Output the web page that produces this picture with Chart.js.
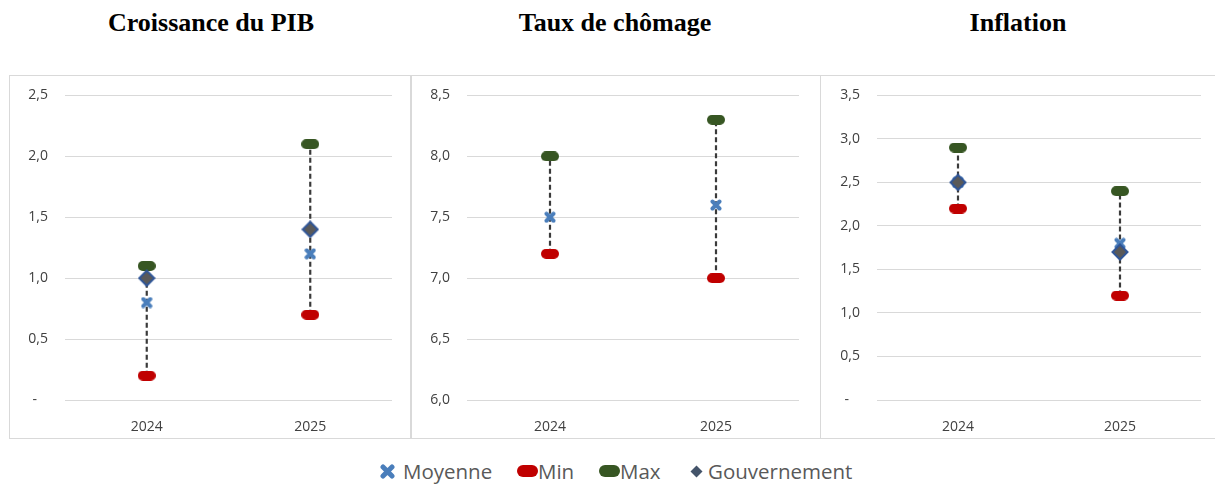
<!DOCTYPE html>
<html>
<head>
<meta charset="utf-8">
<script src="https://cdn.jsdelivr.net/npm/chart.js@4.4.0/dist/chart.umd.min.js"></script>
<style>
body { margin: 0; background: #fff; width: 1215px; height: 484px; overflow: hidden; position: relative; font-family: 'Open Sans', sans-serif; }
.title { position: absolute; top: 8px; font: bold 26px 'Liberation Serif', 'Times New Roman', serif; color: #000; transform: translateX(-50%); white-space: nowrap; }
.panel { position: absolute; border: 1px solid #d9d9d9; box-sizing: border-box; }
canvas { position: absolute; }
.legend-item { position: absolute; top: 458px; height: 26px; display: flex; align-items: center; font-size: 20.5px; color: #595959; white-space: nowrap; }
.legend-item canvas { position: static; }
</style>
</head>
<body>

<div class="title" style="left:211px">Croissance du PIB</div>
<div class="title" style="left:615px">Taux de chômage</div>
<div class="title" style="left:1018px">Inflation</div>

<div class="panel" style="left:9px;top:75px;width:402px;height:364px"></div>
<div class="panel" style="left:411px;top:75px;width:410px;height:364px"></div>
<div class="panel" style="left:820px;top:75px;width:400px;height:364px"></div>

<canvas id="pibChart" style="left:10px;top:70px" width="400" height="368"></canvas>
<canvas id="chomageChart" style="left:412px;top:70px" width="408" height="368"></canvas>
<canvas id="inflationChart" style="left:821px;top:70px" width="394" height="368"></canvas>

<div id="legend"></div>

<script>
// ==========================================
// Data
// ==========================================
const YEARS = ['2024', '2025'];

const PIB_MOYENNE = [0.8, 1.2];
const PIB_MIN = [0.2, 0.7];
const PIB_MAX = [1.1, 2.1];
const PIB_GOUV = [1.0, 1.4];

const CHOMAGE_MOYENNE = [7.5, 7.6];
const CHOMAGE_MIN = [7.2, 7.0];
const CHOMAGE_MAX = [8.0, 8.3];
const CHOMAGE_GOUV = [null, null];

const INFLATION_MOYENNE = [2.5, 1.8];
const INFLATION_MIN = [2.2, 1.2];
const INFLATION_MAX = [2.9, 2.4];
const INFLATION_GOUV = [2.5, 1.7];

const COLOR_MOYENNE = '#4a7ebb';
const COLOR_MIN = '#c00000';
const COLOR_MAX = '#375623';
const COLOR_GOUV_FILL = '#595959';
const COLOR_GOUV_BORDER = '#2f5597';

// ==========================================
// Marker images
// ==========================================
function pillImage(color, w, h) {
    const c = document.createElement('canvas');
    c.width = w; c.height = h;
    const ctx = c.getContext('2d');
    const r = h / 2;
    ctx.fillStyle = color;
    ctx.beginPath();
    ctx.moveTo(r, 0);
    ctx.lineTo(w - r, 0);
    ctx.arc(w - r, r, r, -Math.PI / 2, Math.PI / 2);
    ctx.lineTo(r, h);
    ctx.arc(r, r, r, Math.PI / 2, Math.PI * 1.5);
    ctx.closePath();
    ctx.fill();
    return c;
}

function crossImage(color, s, lw) {
    const c = document.createElement('canvas');
    c.width = s; c.height = s;
    const ctx = c.getContext('2d');
    const p = lw / 2 + 0.5;
    ctx.strokeStyle = color;
    ctx.lineWidth = lw;
    ctx.lineCap = 'round';
    ctx.beginPath();
    ctx.moveTo(p, p); ctx.lineTo(s - p, s - p);
    ctx.moveTo(s - p, p); ctx.lineTo(p, s - p);
    ctx.stroke();
    return c;
}

function diamondImage(fill, border, s, bw) {
    const c = document.createElement('canvas');
    c.width = s; c.height = s;
    const ctx = c.getContext('2d');
    const h = s / 2, p = bw / 2 + 0.5;
    ctx.beginPath();
    ctx.moveTo(h, p); ctx.lineTo(s - p, h); ctx.lineTo(h, s - p); ctx.lineTo(p, h);
    ctx.closePath();
    ctx.fillStyle = fill;
    ctx.fill();
    if (bw > 0) {
        ctx.strokeStyle = border;
        ctx.lineWidth = bw;
        ctx.stroke();
    }
    return c;
}

const MARK_MOYENNE = crossImage(COLOR_MOYENNE, 12, 4);
const MARK_MIN = pillImage(COLOR_MIN, 18, 10);
const MARK_MAX = pillImage(COLOR_MAX, 18, 10);
const MARK_GOUV = diamondImage(COLOR_GOUV_FILL, COLOR_GOUV_BORDER, 18, 2);

// ==========================================
// Chart builder
// ==========================================
function pointSet(label, values, image, order) {
    return {
        label: label,
        data: values,
        showLine: false,
        pointStyle: image,
        pointRadius: 8,
        order: order
    };
}

function rangeSet(year, lo, hi) {
    return {
        label: 'range',
        data: [{ x: year, y: lo }, { x: year, y: hi }],
        borderColor: '#3a3a3a',
        borderWidth: 2.2,
        borderDash: [5, 3],
        pointRadius: 0,
        order: 10
    };
}

function makeChart(id, moyenne, mins, maxs, gouv, yMin, yMax, axisWidth, padRight) {
    const datasets = [
        pointSet('Gouvernement', gouv, MARK_GOUV, 0),
        pointSet('Moyenne', moyenne, MARK_MOYENNE, 1),
        pointSet('Max', maxs, MARK_MAX, 2),
        pointSet('Min', mins, MARK_MIN, 3)
    ];
    YEARS.forEach((y, i) => datasets.push(rangeSet(y, mins[i], maxs[i])));

    return new Chart(document.getElementById(id), {
        type: 'line',
        data: { labels: YEARS, datasets: datasets },
        options: {
            responsive: false,
            animation: false,
            layout: { autoPadding: false, padding: { left: 0, right: padRight, top: 0, bottom: 0 } },
            plugins: { legend: { display: false }, tooltip: { enabled: false } },
            scales: {
                x: {
                    offset: true,
                    grid: { display: false },
                    border: { display: false },
                    ticks: { color: '#404040', font: { family: 'Open Sans', size: 14 }, padding: 11 },
                    afterFit: s => { s.height = 38; }
                },
                y: {
                    min: yMin,
                    max: yMax,
                    grid: { color: '#d9d9d9', lineWidth: 1, drawTicks: false },
                    border: { display: false },
                    ticks: {
                        stepSize: 0.5,
                        color: '#404040',
                        font: { family: 'Open Sans', size: 14 },
                        padding: 17,
                        callback: v => v === 0 ? '-   ' : v.toFixed(1).replace('.', ',')
                    },
                    afterFit: s => { s.width = axisWidth; }
                }
            }
        }
    });
}

makeChart('pibChart', PIB_MOYENNE, PIB_MIN, PIB_MAX, PIB_GOUV, 0, 2.5, 55, 18);
makeChart('chomageChart', CHOMAGE_MOYENNE, CHOMAGE_MIN, CHOMAGE_MAX, CHOMAGE_GOUV, 6, 8.5, 55, 21);
makeChart('inflationChart', INFLATION_MOYENNE, INFLATION_MIN, INFLATION_MAX, INFLATION_GOUV, 0, 3.5, 56, 14);

// ==========================================
// Shared legend
// ==========================================
const LEGEND_ITEMS = [
    { text: 'Moyenne', icon: crossImage(COLOR_MOYENNE, 15, 5), left: 380, gap: 8 },
    { text: 'Min', icon: pillImage(COLOR_MIN, 21, 12), left: 517, gap: 0 },
    { text: 'Max', icon: pillImage(COLOR_MAX, 21, 12), left: 599, gap: 0 },
    { text: 'Gouvernement', icon: diamondImage('#44546a', '#44546a', 13, 0), left: 690, gap: 5 }
];

const legendBox = document.getElementById('legend');
LEGEND_ITEMS.forEach(item => {
    const div = document.createElement('div');
    div.className = 'legend-item';
    div.style.left = item.left + 'px';
    item.icon.style.marginRight = item.gap + 'px';
    div.appendChild(item.icon);
    const span = document.createElement('span');
    span.textContent = item.text;
    div.appendChild(span);
    legendBox.appendChild(div);
});
</script>
</body>
</html>
